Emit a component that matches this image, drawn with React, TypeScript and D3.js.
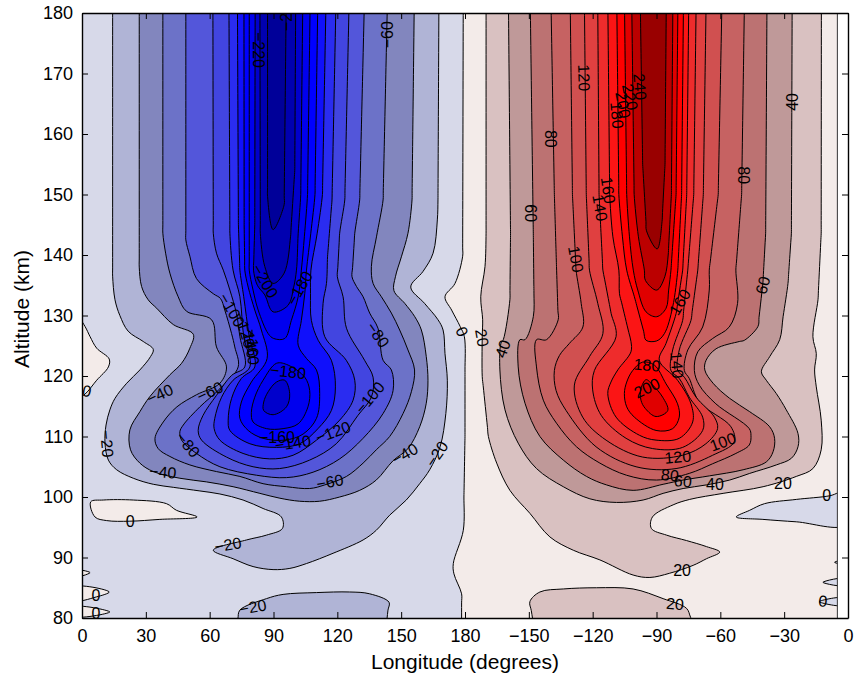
import React, { useEffect, useRef } from "react";
import * as d3 from "d3";

type P = [number, number];

const lonTicks = [0, 30, 60, 90, 120, 150, 180, 210, 240, 270, 300, 330, 360];
const lonTickLabels = ["0", "30", "60", "90", "120", "150", "180", "−150", "−120", "−90", "−60", "−30", "0"];
const altTicks = [80, 90, 100, 110, 120, 130, 140, 150, 160, 170, 180];

// Contours: [longitude, altitude]
const neg20Main: P[] = [[14.4,180],[14.4,136.5],[15.5,132.6],[17.8,130],[21.7,127.4],[28.8,125.7],[33.5,124.4],[32.2,123.2],[27.2,121],[21,118.8],[15.5,116.3],[13.1,114.4],[11.3,111.9],[10.8,108.9],[12.4,106.1],[16.3,104.5],[24.1,103.1],[33.5,102.1],[42.9,101.6],[55.4,101],[64.8,100.5],[75.7,99.5],[85.1,98.1],[93.7,96.7],[94.2,94.8],[86.7,93.7],[77.3,92.9],[61.7,91.2],[71,89.8],[80.4,88.5],[89.8,88],[97.7,88.2],[105.5,89],[118,90.7],[132.1,92.9],[138.3,94.5],[144.6,97],[152.4,99.5],[158.7,102.2],[163.4,104.5],[168.3,108.3],[171,113.8],[171.7,119.3],[170.6,123.7],[169.7,127.6],[167.3,129.3],[161,132],[154.5,134.7],[160.3,137.3],[165,140.3],[167,145.8],[167.3,149.1],[167.8,180]];
const neg20Low: P[] = [[69.5,80],[74.2,81.3],[86.7,83.2],[94.5,83.9],[110.2,84.2],[125.8,84.3],[135.2,84],[144.3,82.6],[143.8,81.3],[141.5,80]];
const neg40: P[] = [[26.9,180],[26.9,138],[28,134.8],[31.1,132.6],[35.1,131.2],[42.9,128.5],[52.3,126.9],[50.7,124.6],[46.8,122.1],[41.3,120.2],[31.9,116.6],[27.2,114.1],[22.5,111.1],[22.8,107.8],[27.2,105.6],[33.5,104.2],[46,103.1],[58.5,102.5],[71,101.7],[83.6,100.6],[93,99.8],[102.3,99.3],[111.7,99.3],[121.1,100],[130.5,101.1],[138.3,102.8],[146.2,106],[153.2,108],[158.7,111.6],[161.8,115.5],[162.6,119.3],[161.8,123.2],[159.5,127.6],[156.4,129.8],[151.7,132],[146.6,134.1],[147.3,136.4],[150.1,139.7],[153.2,143.6],[155.1,149.1],[156.3,180]];
const neg60: P[] = [[38,180],[38,143.6],[39.3,140.3],[41.3,137],[45.2,133.1],[49.1,130.7],[60.9,129.3],[63.2,124.8],[67.9,121.5],[64.8,118.8],[53.8,116.9],[44.6,114.9],[38.2,112.4],[34.3,109.7],[35.8,108],[41.3,106.7],[50.7,105.3],[63.2,104.2],[74.2,103.4],[85.1,102.2],[96.1,101.7],[107,101.4],[114.1,102],[124.3,103.4],[132.1,105.6],[138.3,107.8],[144.6,110],[150.9,113.8],[154.8,117.4],[156.3,121],[153.2,124.3],[149.3,127.6],[145.4,130.4],[140.7,133.1],[136.8,135.3],[136,138.1],[138.4,143],[141.5,149.1],[143.8,180]];
const neg80: P[] = [[48.8,180],[48.8,142.5],[50.7,139.8],[53.8,136.1],[61.7,133.6],[65.1,132.8],[67.1,130.9],[70.3,127],[71.8,124.8],[73.4,121.5],[64.8,117.9],[55.4,114.9],[47.6,111.9],[46,110.8],[46.8,109.4],[53.8,107.2],[64.8,105],[82,103.6],[96.1,103.2],[108.6,104.1],[121.1,106.3],[132.1,109.7],[141.5,113.8],[146.2,117.6],[145.4,121],[141.5,122.6],[139.1,127.9],[135.2,130.4],[132.1,133.1],[129,134.8],[126.9,136.4],[128.2,143.6],[130.5,149.1],[133,180]];
const neg100: P[] = [[61.5,180],[61.7,143.6],[63.2,140.3],[66.4,137.5],[69.5,134.2],[72.6,130.3],[74.2,126.5],[76.5,121.5],[70.3,120.1],[63.2,116.8],[56.9,113.5],[54.6,111],[56.2,109.4],[67.9,106.6],[80.4,105],[92.9,104.7],[107,106.1],[119.5,108.8],[129.7,113.5],[136,116.5],[136.8,119.8],[132.8,122.6],[124.3,127.9],[122.7,133.1],[120,136.4],[121.1,143.6],[123.5,149.1],[125.8,180]];
const neg120: P[] = [[69,180],[69.5,143.6],[71,137.5],[74.2,133.1],[76,126.5],[78.9,121.5],[71,119.3],[65.6,116.5],[62.4,113],[62.1,111.3],[64.8,109.4],[75.7,107.2],[88.2,106.3],[99.2,106.9],[110.2,109.4],[121.1,112.7],[127.4,116],[128.2,119.3],[124.2,122.6],[114.1,126.5],[113.3,132],[114.9,135.3],[115.4,139.7],[117.5,149.1],[119.6,180]];
const neg140: P[] = [[73,180],[73.5,145],[74.2,137.5],[76,133.1],[78.6,126.5],[81.2,121.5],[74.9,119.6],[70.3,116.3],[68.7,112.7],[69.5,111],[78.9,108.8],[91.4,108.2],[102.3,108.8],[110.9,111.3],[117.2,114.3],[119.1,118.2],[117.2,122.6],[111,125.9],[107.8,129.2],[107.4,133.6],[107.6,137.5],[110.5,143.5],[113,150],[114.9,180]];
const neg160: P[] = [[76.1,180],[76.2,145],[76.5,137.5],[78.1,134.7],[81.2,130.9],[84.3,127.6],[87,122.9],[79.6,119],[74.9,115.7],[74.2,113],[78.1,111],[85.1,109.7],[95.3,109.4],[103.9,110.4],[110.2,113],[111.7,117.1],[110.2,121],[105.5,122.9],[101.6,125.1],[103.1,129.2],[104.7,133.6],[105.5,137.5],[107.5,143.5],[109.5,150],[111,180]];
const neg180Up: P[] = [[78.6,180],[78.6,137.5],[80.4,134.2],[82.8,130.9],[87.5,127],[90.1,126.2],[95.3,126.2],[98.4,129.2],[101.6,133.1],[103.1,137.5],[104.5,143],[106,150],[107.4,180]];
const neg180Low: P[] = [[79.6,114],[80.4,112.4],[86.7,111.3],[94.5,111.3],[101.6,112.1],[106.2,114.9],[107,117.6],[104.7,119.8],[96.9,121.8],[91.4,122.1],[85.1,119.3],[81.2,116.5]];
const neg200Up: P[] = [[81.4,180],[81.2,145],[80.6,137.5],[82.4,135],[85.9,133.4],[89.8,130.6],[96.9,131.7],[99.5,134.7],[100.8,137.5],[101.6,143.5],[102.8,150],[103.9,180]];
const neg200Low: P[] = [[85.4,114.3],[89.8,113.6],[96.1,114.9],[97.6,117.1],[95.3,119.3],[91.4,119],[87.5,117.4],[85.4,115.7]];
const neg220: P[] = [[83.6,180],[83.8,143.6],[85.9,138.1],[89.8,135.3],[95,137],[98,143],[100,154],[100.5,180]];
const neg240: P[] = [[87.2,180],[87.2,149.7],[89.8,144.2],[95,148.3],[96.1,180]];

const zeroMain: P[] = [[179.2,180],[178.9,139.8],[175.3,135.3],[170.6,133.1],[173.7,130.9],[177.7,128.2],[179.7,126.5],[180,121],[180,110],[179.5,100],[179.2,94.5],[174.5,89],[174.8,87.3],[178.4,84],[178.4,80],[355,80],[355,180]];
const zeroPocketsPink: P[][] = [
  [[0,130.9],[1.4,128.2],[3.8,126.5],[6.9,124.6],[12.8,122.8],[12.4,121.5],[6.9,119.3],[1.4,117],[0,115.8]],
  [[4.1,99.2],[10,99.5],[24.1,99.5],[39.7,98.9],[44.4,97.8],[54.1,96.7],[36.6,96.3],[22.5,96],[11.6,96.1],[6.1,96.7]],
  [[0,87.9],[3.8,87.5],[0,86.8]],
  [[0,85.1],[12.8,84.3],[6.9,83.5],[0,82.9]],
  [[0,81.8],[13.1,81],[0,80.3]],
];
const zeroPocketsBlue: P[][] = [
  [[307.5,96.7],[313.8,97.8],[320.8,98.9],[335.7,99.6],[351.4,100.2],[355,100.9],[355,95.4],[335.7,95.9],[320,96.3]],
  [[353.7,89.2],[355,89.6],[355,88.9]],
  [[348.2,85.9],[355,86.5],[355,85.4]],
  [[346.4,82.7],[355,83.3],[355,82.1]],
];

const pos20Main: P[] = [[189.9,180],[189.9,143.6],[189.4,138.1],[187.4,133.1],[188.3,129.3],[188.1,126.5],[188.1,119.9],[191,110],[194.9,105.6],[201.1,101.1],[210.5,97.3],[219.9,93.4],[230.9,91.2],[243.4,89.6],[259,87.1],[266.9,86.7],[276.2,87.4],[287.2,88.7],[293.5,89.8],[299.7,90.9],[293.5,91.8],[284.1,92.8],[274.7,93.7],[267.6,94.8],[268.1,96.7],[277.8,98.7],[285.6,99.6],[301.3,100.6],[320.1,101.7],[335.7,103.4],[343.5,104.7],[347.4,107.8],[347.4,112.7],[345.1,118.2],[344.3,121],[345.1,123.7],[343.5,126.5],[345.9,132.6],[347.4,143.6],[347.5,180]];
const pos20Low: P[] = [[214.4,80],[210.5,82.7],[215.2,84.3],[226.2,84.8],[241.8,85],[259,84.8],[273.1,83.2],[284.1,81.6],[293.9,80]];
const pos40: P[] = [[200.3,180],[201.4,143.6],[201.1,132.6],[198,126],[196.9,125.4],[196.4,121],[198.8,114.4],[205,108.9],[213.6,104.7],[226.2,101.7],[238.7,99.7],[251.2,99.1],[263.7,99.5],[273.1,100.6],[282.5,101.4],[293.5,102],[304.4,102.8],[313.8,103.9],[326.3,105.3],[333.4,106.4],[336.5,108.3],[336.5,110.5],[331,114.4],[326.3,117.1],[321.6,119.3],[319.3,120.7],[323.2,123.2],[327.9,126],[329.5,129.8],[331.8,135.3],[333.4,143.6],[333.8,180]];
const pos60: P[] = [[210.5,180],[212.1,143.6],[212.4,133.7],[212.1,129.8],[208.2,126],[205.8,126],[205,121.5],[208.2,115.5],[215.2,110],[226.2,106.1],[237.1,103.4],[246.5,102],[259,101.1],[273.1,102.1],[282.5,102.8],[295,103.5],[310.7,104.5],[321.6,105.8],[324.8,107.5],[325.5,109.7],[323.2,111.6],[313.8,114.1],[304.4,116.3],[296.6,118.8],[292.7,121],[293.3,122.6],[298,124.5],[308.9,125.7],[311.3,125.9],[317.7,128.2],[320,135.3],[321.3,143.6],[322,180]];
const pos80: P[] = [[220.2,180],[222,150],[223,138.1],[223.8,129.3],[218.3,126],[213.6,126],[213.6,121.5],[216.8,116],[223,112.2],[232.4,108.3],[243.4,105.6],[255.9,103.6],[270,102.8],[285.4,103.9],[296.4,105.5],[307.3,107.2],[313.6,108.6],[314.4,110.2],[313.6,111.3],[297.9,115.4],[290.1,118.5],[287.8,120.9],[289.4,124],[296.4,126.2],[304.2,128.1],[308.1,132],[307.3,137.5],[310,150],[311.5,180]];
const pos100: P[] = [[229.3,180],[230.5,150],[232.2,137.5],[234.6,132],[235.4,128.1],[229.1,125.4],[224.4,123.4],[222,120.9],[222.8,117.6],[227.5,114.3],[241.6,108.3],[260.4,105],[279.2,104.7],[296.4,106.9],[306.5,109.1],[305,111.6],[290.1,115.7],[285.4,119.6],[283.1,120.9],[284.7,124.3],[291.7,128.1],[294.8,134.2],[294.8,137.5],[299,150],[301,180]];
const pos120: P[] = [[236,180],[237,150],[238.5,137.5],[242.4,132],[244.8,127],[238.5,123.2],[231.4,118.5],[235.3,113.2],[246.3,109.4],[263.5,106.6],[282.3,106.9],[293.2,108.8],[298.7,111.3],[297.2,113.2],[288.6,116.5],[283.1,119.8],[280,120.9],[280.7,124.3],[286.2,129.2],[289.4,137.5],[292,150],[293.5,180]];
const pos140: P[] = [[242.3,180],[243,150],[244.8,137.5],[248.7,130.3],[251,126.5],[240.8,120.9],[240,117.7],[244,113.5],[255.7,109.7],[268.2,108],[282.3,108.2],[291.7,111],[291.7,113.2],[285.4,116.5],[280.7,119.6],[276.8,120.9],[277.6,124.3],[282.3,129.2],[284.7,137.5],[287.5,150],[288.8,180]];
const pos160: P[] = [[247,180],[248,150],[249.5,143],[252.3,137.5],[252.6,133.6],[258,125.7],[258,124],[251.8,121],[248.6,119],[247.1,117.1],[251,113.2],[262,110.2],[269.8,109.4],[280.7,109.7],[287,112.4],[286.2,115.4],[279.9,119.3],[271.3,122.6],[274.5,125.4],[279.2,130.3],[282.3,137.5],[284.2,150],[285.3,180]];
const pos180Up: P[] = [[251.2,180],[252.3,150],[254,143],[256,137.5],[259.6,133.1],[265.1,125.9],[270.1,125.8],[273.7,127],[277.6,131.4],[280,137.5],[281.8,150],[282.8,180]];
const pos180Low: P[] = [[254.9,117.1],[256,114.9],[259.6,113.2],[269.8,111],[277.6,111.3],[280.7,113.2],[279.9,115.4],[274.5,118.7],[269,121.8],[263.5,122.3],[258.8,120.9],[256,119]];
const pos200Up: P[] = [[254.8,180],[256,150],[257.3,143],[259.1,137.5],[261.2,134.2],[265.1,130.6],[270.1,129.8],[274.5,131.2],[275.7,134.2],[276.8,137.5],[279.2,150],[280.2,180]];
const pos200Low: P[] = [[262.7,116],[264.8,114.6],[269.8,113.3],[275.3,114.3],[272.9,116.5],[268.2,118.5],[265.1,119.4],[262.7,117.9]];
const pos220: P[] = [[258.2,180],[259.5,150],[261.5,143],[264.3,137.5],[264.8,135.8],[270.1,134.2],[273.9,136.4],[275.5,140],[277,150],[277.8,180]];
const pos240: P[] = [[262.2,180],[263.5,155],[265.3,144],[270.3,141],[272.6,145.5],[274,155],[274.7,180]];

const negBands: [string, P[][]][] = [
  ["#b0b4d6", [neg20Main, neg20Low]],
  ["#8286be", [neg40]],
  ["#6c72c8", [neg60]],
  ["#5356da", [neg80]],
  ["#4245e0", [neg100]],
  ["#2a2cf0", [neg120]],
  ["#1010fb", [neg140]],
  ["#0000ff", [neg160]],
  ["#0000ee", [neg180Up, neg180Low]],
  ["#0000cc", [neg200Up, neg200Low]],
  ["#0000b0", [neg220]],
  ["#000099", [neg240]],
];
const posBands: [string, P[][]][] = [
  ["#d9c1c1", [pos20Main, pos20Low]],
  ["#bf9999", [pos40]],
  ["#bc7272", [pos60]],
  ["#c66262", [pos80]],
  ["#d05050", [pos100]],
  ["#e04040", [pos120]],
  ["#ee2c2c", [pos140]],
  ["#fb1515", [pos160]],
  ["#ff0000", [pos180Up, pos180Low]],
  ["#e00000", [pos200Up, pos200Low]],
  ["#bb0000", [pos220]],
  ["#990000", [pos240]],
];

const labelText = ["−60","−220","−2","−200","−180","−100","−120","−140","−160","−80","−180","−60","−40","0","−20","−80","−40","−160","−140","−120","−100","−60","−40","−20","0","−20","−20","0","0","0","0","20","40","60","80","100","120","140","160","180","200","220","240","40","80","60","160","180","200","140","120","100","80","60","40","20","20","20","0"];
const labelLon = [143.8,83.1,96.3,86,102.3,70.4,76.5,78.9,80.3,139,96.8,60.1,36.6,2.3,11.7,49.8,38,91.6,99.1,118,135.3,116.5,151.8,166.8,22.6,68.6,80.3,6.6,6.6,350,178.5,188,197.8,211,220.4,232.1,235.9,243.4,247.2,251.4,254.2,257.5,262.2,334.1,311.1,320,281,265.5,265.5,279.6,280,301.2,276.3,282.4,297.5,329.4,282,278.7,348.2];
const labelAlt = [176.4,173.9,178.5,135.7,134.5,130.9,127.6,125.9,124.8,126.8,120.7,117.4,117,117.5,108.8,108.6,104.1,109.8,108.9,110.7,116.4,102.5,107.1,107.1,95.9,92.1,81.8,83.8,80.7,100.3,127.3,126.3,124.5,146.9,159.2,139.3,169.3,147.8,150.7,163.1,164.8,166.1,167.8,165.3,153.2,135,132.2,121.8,118,121.8,106.6,109.1,103.6,102.6,102.1,102.3,87.9,82.3,82.8];
const labelAngle = [-90,90,-90,60,-60,60,72,80,88,55,6,-25,-25,10,85,50,5,0,-8,-20,-50,-10,-30,-55,0,-10,-10,0,0,0,65,80,-70,90,90,80,88,80,82,85,80,78,85,-90,90,-75,-60,5,-25,85,-5,-20,5,5,0,0,0,5,5];

const W = 854, H = 677;
const FONT = "'Liberation Sans', Arial, sans-serif";

// Lines that run out of the plot are carried past its edge, so that the clip cuts them square.
const pastEdge = (p: P): P => [
  p[0] === 0 ? -4 : p[0] === 355 ? 359 : p[0],
  p[1] === 180 ? 186 : p[1] === 80 ? 74 : p[1],
];

// Keeps the spline straight along the long, nearly vertical runs: it adds guide points
// close to both ends of a long segment so the curve does not bow between them.
const guideLongRuns = (pts: P[]): P[] => {
  const out: P[] = [];
  pts.forEach((a, i) => {
    const b = pts[(i + 1) % pts.length];
    out.push(a);
    const dAlt = Math.abs(b[1] - a[1]);
    if (dAlt > 7) {
      const t = 1.5 / dAlt;
      const at = (u: number): P => [a[0] + (b[0] - a[0]) * u, a[1] + (b[1] - a[1]) * u];
      out.push(at(t), at(0.5), at(1 - t));
    }
  });
  return out;
};

export default function App() {
  const axesRef = useRef<SVGGElement>(null);
  const x = d3.scaleLinear().domain([0, 360]).range([82, 848]);
  const y = d3.scaleLinear().domain([80, 180]).range([618, 13]);
  const line = d3.line<P>().x((d) => x(d[0])).y((d) => y(d[1])).curve(d3.curveCatmullRomClosed.alpha(0.5));

  useEffect(() => {
    const g = d3.select(axesRef.current);
    g.selectAll("*").remove();
    const lonFmt = (_: any, i: number) => lonTickLabels[i];
    const bottom = d3.axisBottom(x).tickValues(lonTicks).tickFormat(lonFmt as any).tickSizeInner(-6).tickSizeOuter(0).tickPadding(11);
    const top = d3.axisTop(x).tickValues(lonTicks).tickFormat(() => "").tickSizeInner(-6).tickSizeOuter(0);
    const left = d3.axisLeft(y).tickValues(altTicks).tickFormat(d3.format("d") as any).tickSizeInner(-6).tickSizeOuter(0).tickPadding(9);
    const right = d3.axisRight(y).tickValues(altTicks).tickFormat(() => "").tickSizeInner(-6).tickSizeOuter(0);
    g.append("g").attr("transform", "translate(0,618)").call(bottom as any);
    g.append("g").attr("transform", "translate(0,13)").call(top as any);
    g.append("g").attr("transform", "translate(82,0)").call(left as any);
    g.append("g").attr("transform", "translate(848,0)").call(right as any);
    g.selectAll("text").attr("font-family", FONT).attr("font-size", 18).attr("fill", "#000");
    g.selectAll(".domain").attr("stroke", "#000").attr("stroke-width", 1.4);
    g.selectAll("line").attr("stroke", "#000").attr("stroke-width", 1);
  }, []);

  const poly = (pts: P[], fill: string, key: string) => (
    <path key={key} d={line(guideLongRuns(pts.map(pastEdge))) ?? ""} fill={fill} stroke="#000" strokeWidth={1} strokeLinejoin="round" />
  );

  return (
    <svg width={W} height={H} style={{ position: "absolute", left: 0, top: 0, background: "#fff" }}>
      <defs>
        <clipPath id="plot">
          <rect x={x(0)} y={y(180)} width={x(355) - x(0)} height={y(80) - y(180)} />
        </clipPath>
      </defs>
      <g clipPath="url(#plot)">
        <rect x={x(0)} y={y(180)} width={x(355) - x(0)} height={y(80) - y(180)} fill="#d7d9e9" />
        {negBands.map(([c, ps], i) => ps.map((p, j) => poly(p, c, `n${i}-${j}`)))}
        {zeroPocketsPink.map((p, i) => poly(p, "#f3ebe9", `zp${i}`))}
        {poly(zeroMain, "#f3ebe9", "zm")}
        {zeroPocketsBlue.map((p, i) => poly(p, "#d7d9e9", `zb${i}`))}
        {posBands.map(([c, ps], i) => ps.map((p, j) => poly(p, c, `p${i}-${j}`)))}
      </g>
      <line x1={x(355)} x2={x(355)} y1={y(180)} y2={y(80)} stroke="#333" strokeWidth={1} />
      <g fontFamily={FONT} fontSize={16} fill="#000" textAnchor="middle" dominantBaseline="central">
        {labelText.map((t, i) => (
          <text key={i} transform={`translate(${x(labelLon[i])},${y(labelAlt[i])}) rotate(${labelAngle[i]})`}>{t}</text>
        ))}
      </g>
      <g ref={axesRef} />
      <text x={465} y={669} textAnchor="middle" fontFamily={FONT} fontSize={21} fill="#000">Longitude (degrees)</text>
      <text transform="translate(29,309) rotate(-90)" textAnchor="middle" fontFamily={FONT} fontSize={21} fill="#000">Altitude (km)</text>
    </svg>
  );
}
